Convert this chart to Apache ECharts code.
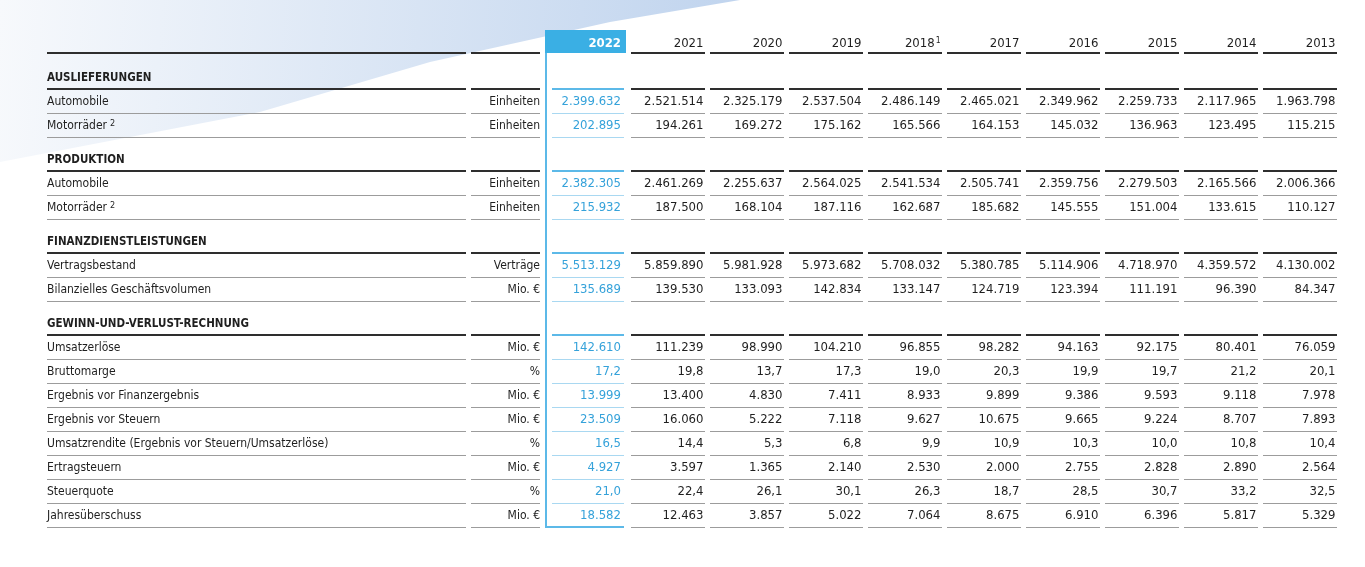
<!DOCTYPE html>
<html><head><meta charset="utf-8">
<script src="https://cdn.jsdelivr.net/npm/echarts@6/dist/echarts.min.js"></script>
<style>html,body{margin:0;padding:0;background:#fff}#c{width:1365px;height:567px}</style>
</head><body><div id="c"></div><script>
// ---------- DATA ----------
const years = ['2022','2021','2020','2019','2018','2017','2016','2015','2014','2013'];
const yearNotes = ['','','','','1','','','','',''];
const sections = ['AUSLIEFERUNGEN','PRODUKTION','FINANZDIENSTLEISTUNGEN','GEWINN-UND-VERLUST-RECHNUNG'];
const rowLabels = ['Automobile','Motorräder','Automobile','Motorräder','Vertragsbestand','Bilanzielles Geschäftsvolumen','Umsatzerlöse','Bruttomarge','Ergebnis vor Finanzergebnis','Ergebnis vor Steuern','Umsatzrendite (Ergebnis vor Steuern/Umsatzerlöse)','Ertragsteuern','Steuerquote','Jahresüberschuss'];
const rowNotes = ['','2','','2','','','','','','','','','',''];
const rowSections = [0,0,1,1,2,2,3,3,3,3,3,3,3,3];
const rowUnits = ['Einheiten','Einheiten','Einheiten','Einheiten','Verträge','Mio. €','Mio. €','%','Mio. €','Mio. €','%','Mio. €','%','Mio. €'];
const deliveriesCars = [2399632,2521514,2325179,2537504,2486149,2465021,2349962,2259733,2117965,1963798];
const deliveriesMotorcycles = [202895,194261,169272,175162,165566,164153,145032,136963,123495,115215];
const productionCars = [2382305,2461269,2255637,2564025,2541534,2505741,2359756,2279503,2165566,2006366];
const productionMotorcycles = [215932,187500,168104,187116,162687,185682,145555,151004,133615,110127];
const contractPortfolio = [5513129,5859890,5981928,5973682,5708032,5380785,5114906,4718970,4359572,4130002];
const businessVolume = [135689,139530,133093,142834,133147,124719,123394,111191,96390,84347];
const revenues = [142610,111239,98990,104210,96855,98282,94163,92175,80401,76059];
const grossMargin = [17.2,19.8,13.7,17.3,19.0,20.3,19.9,19.7,21.2,20.1];
const ebit = [13999,13400,4830,7411,8933,9899,9386,9593,9118,7978];
const profitBeforeTax = [23509,16060,5222,7118,9627,10675,9665,9224,8707,7893];
const ebtMargin = [16.5,14.4,5.3,6.8,9.9,10.9,10.3,10.0,10.8,10.4];
const incomeTaxes = [4927,3597,1365,2140,2530,2000,2755,2828,2890,2564];
const taxRate = [21.0,22.4,26.1,30.1,26.3,18.7,28.5,30.7,33.2,32.5];
const netProfit = [18582,12463,3857,5022,7064,8675,6910,6396,5817,5329];
const rowValues = [deliveriesCars,deliveriesMotorcycles,productionCars,productionMotorcycles,contractPortfolio,businessVolume,revenues,grossMargin,ebit,profitBeforeTax,ebtMargin,incomeTaxes,taxRate,netProfit];

// ---------- STYLE ----------
const FONT = "'DejaVu Sans Condensed','Liberation Sans Narrow','DejaVu Sans',sans-serif";
const DARK = '#1f1f1f', LINE_DARK = '#2e2e2e', GREY = '#9c9c9c', BLUE_TXT = '#35a2da', BLUE_BOX = '#3aafe4', BLUE_LINE = '#5cb9e8', BLUE_THIN = '#a9d8f1';
const HEAD_GAP = 34/24;

function fmt(v, unit) {
  if (unit === '%') return v.toFixed(1).replace('.', ',');
  const s = String(Math.round(v));
  return s.replace(/\B(?=(\d{3})+(?!\d))/g, '.');
}

// ---------- LAYOUT ROWS (row units) ----------
const layout = [{kind:0, pos:0, idx:-1}];
let pos = 0, curSec = -1;
rowLabels.forEach((l, i) => {
  if (rowSections[i] !== curSec) { curSec = rowSections[i]; pos += HEAD_GAP; layout.push({kind:1, pos, idx:curSec}); }
  pos += 1; layout.push({kind:2, pos, idx:i});
});
const lastPos = pos;

const labelData = layout.map(r => [0.5, r.pos, r.kind, r.idx]);
const cellData = [];
layout.forEach(r => { years.forEach((y, c) => cellData.push([c, r.pos, r.kind, r.idx])); });
cellData.push([0, lastPos, 3, -1]);

const px = v => Math.round(v) + 0.5;

function renderLabels(params, api) {
  const cs = params.coordSys;
  const left = cs.x, right = cs.x + cs.width;
  const kind = api.value(2), idx = api.value(3);
  const y = api.coord([0.5, api.value(1)])[1];
  const segs = [[left, right - 74], [right - 69, right]];
  const ch = [];
  if (kind === 0) {
    segs.forEach(s => ch.push({type:'line', shape:{x1:s[0], y1:Math.round(y+9), x2:s[1], y2:Math.round(y+9)}, style:{stroke:LINE_DARK, lineWidth:2}}));
  } else if (kind === 1) {
    ch.push({type:'text', style:{x:left, y:y, text:sections[idx], fill:DARK, font:'bold 11.5px ' + FONT, textAlign:'left', textVerticalAlign:'middle'}});
    segs.forEach(s => ch.push({type:'line', shape:{x1:s[0], y1:Math.round(y+11), x2:s[1], y2:Math.round(y+11)}, style:{stroke:LINE_DARK, lineWidth:2}}));
  } else {
    const note = rowNotes[idx];
    ch.push({type:'text', style:{x:left, y:y, text: note ? '{n|' + rowLabels[idx] + '}{s|' + note + '}' : '{n|' + rowLabels[idx] + '}',
      rich:{n:{fontSize:12, fontFamily:FONT, fill:DARK, lineHeight:14}, s:{fontSize:9, fontFamily:FONT, fill:DARK, verticalAlign:'top', padding:[0,0,4,3], lineHeight:14}},
      textAlign:'left', textVerticalAlign:'middle'}});
    ch.push({type:'text', style:{x:right, y:y, text:rowUnits[idx], fill:DARK, font:'12px ' + FONT, textAlign:'right', textVerticalAlign:'middle'}});
    segs.forEach(s => ch.push({type:'line', shape:{x1:s[0], y1:px(y+11), x2:s[1], y2:px(y+11)}, style:{stroke:GREY, lineWidth:1}}));
  }
  return {type:'group', children:ch};
}

function renderCells(params, api) {
  const col = api.value(0), kind = api.value(2), idx = api.value(3);
  const c = api.coord([col, api.value(1)]);
  const bw = api.size([1, 0])[0];
  const x0 = c[0] - bw/2, x1 = c[0] + bw/2, y = c[1];
  const is22 = col === 0;
  const tx = is22 ? x1 - 5 : x1 - 1.5;
  const ch = [];
  if (kind === 0) {
    const note = yearNotes[col];
    if (is22) {
      ch.push({type:'rect', shape:{x:x0-2, y:Math.round(y-14), width:x1-x0+2, height:23}, style:{fill:BLUE_BOX}});
      ch.push({type:'text', style:{x:tx, y:y, text:years[col], fill:'#fff', font:'bold 13px ' + FONT, textAlign:'right', textVerticalAlign:'middle'}});
    } else {
      ch.push({type:'text', style:{x:tx, y:y, text: note ? '{n|' + years[col] + '}{s|' + note + '}' : '{n|' + years[col] + '}',
        rich:{n:{fontSize:13, fontFamily:FONT, fill:DARK, lineHeight:15}, s:{fontSize:8.5, fontFamily:FONT, fill:DARK, verticalAlign:'top', padding:[0,0,4,1], lineHeight:15}},
        textAlign:'right', textVerticalAlign:'middle'}});
      ch.push({type:'line', shape:{x1:x0+5, y1:Math.round(y+9), x2:x1, y2:Math.round(y+9)}, style:{stroke:LINE_DARK, lineWidth:2}});
    }
  } else if (kind === 1) {
    ch.push({type:'line', shape:{x1:x0+5, y1:Math.round(y+11), x2:is22 ? x1-2 : x1, y2:Math.round(y+11)}, style:{stroke:is22 ? BLUE_LINE : LINE_DARK, lineWidth:2}});
  } else if (kind === 2) {
    ch.push({type:'text', style:{x:tx, y:y, text:fmt(rowValues[idx][col], rowUnits[idx]), fill:is22 ? BLUE_TXT : DARK, font:'13px ' + FONT, textAlign:'right', textVerticalAlign:'middle'}});
    ch.push({type:'line', shape:{x1:x0+5, y1:px(y+11), x2:is22 ? x1-2 : x1, y2:px(y+11)}, style:{stroke:is22 ? BLUE_THIN : GREY, lineWidth:1}});
  } else if (kind === 3) {
    const yTop = api.coord([0, 0])[1] + 9;
    ch.push({type:'polyline', shape:{points:[[x0-1, yTop], [x0-1, Math.round(y+11)], [x1-2, Math.round(y+11)]]}, style:{stroke:BLUE_LINE, lineWidth:2, fill:null}});
  }
  return {type:'group', children:ch};
}

const chart = echarts.init(document.getElementById('c'));
chart.setOption({
  animation: false,
  backgroundColor: '#fff',
  graphic: [{
    type:'polygon', z:-10, silent:true,
    shape:{points:[[0,0],[740,0],[610,22],[430,62],[260,112],[0,162]]},
    style:{fill:new echarts.graphic.LinearGradient(0,0,1,0.3,[{offset:0,color:'#f7f9fc'},{offset:1,color:'#c0d4ee'}])}
  }],
  grid: [
    {left:47, width:493, top:20, height:528},
    {left:547, width:790, top:20, height:528}
  ],
  xAxis: [
    {gridIndex:0, type:'value', min:0, max:1, show:false},
    {gridIndex:1, type:'category', data:years, show:false}
  ],
  yAxis: [
    {gridIndex:0, type:'value', min:-1, max:21, inverse:true, show:false},
    {gridIndex:1, type:'value', min:-1, max:21, inverse:true, show:false}
  ],
  series: [
    {type:'custom', xAxisIndex:0, yAxisIndex:0, data:labelData, renderItem:renderLabels, silent:true, clip:false},
    {type:'custom', xAxisIndex:1, yAxisIndex:1, data:cellData, renderItem:renderCells, silent:true, clip:false}
  ]
});
</script></body></html>
